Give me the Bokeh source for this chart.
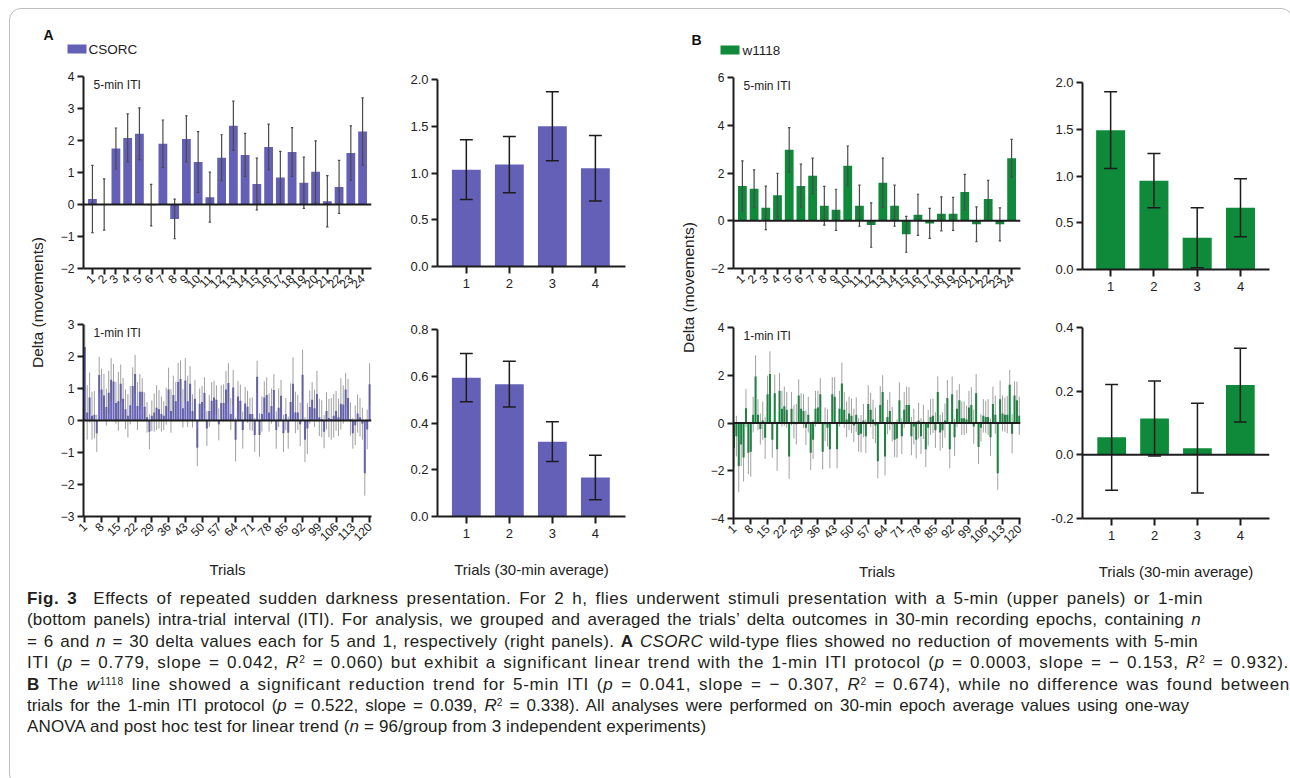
import numpy as np
from math import pi
from bokeh.plotting import figure
from bokeh.models import Range1d, FixedTicker, Span, Label, Div, NumeralTickFormatter
from bokeh.layouts import row, column
from bokeh.core.properties import value
from bokeh.embed import file_html
from bokeh.resources import INLINE

# ---------------- data ----------------
trials5 = list(range(1, 25))
trials1 = list(range(1, 121))
epochs = [1, 2, 3, 4]

A5_mean = [0.17, 0.00, 1.75, 2.08, 2.21, -0.02, 1.90, -0.45, 2.05, 1.33, 0.23, 1.46,
           2.46, 1.55, 0.64, 1.80, 0.84, 1.64, 0.68, 1.02, 0.10, 0.55, 1.61, 2.28]
A5_sem = [1.05, 0.80, 0.64, 0.75, 0.81, 0.65, 0.74, 0.62, 0.72, 0.95, 0.78, 0.72,
          0.77, 0.67, 0.81, 0.71, 0.82, 0.76, 0.80, 0.97, 0.80, 0.83, 0.85, 1.05]

B5_mean = [1.46, 1.34, 0.54, 1.07, 2.97, 1.46, 1.88, 0.63, 0.46, 2.30, 0.63, -0.18,
           1.59, 0.63, -0.57, 0.25, -0.11, 0.29, 0.29, 1.20, -0.15, 0.91, -0.15, 2.62]
B5_sem = [1.05, 0.79, 0.91, 0.92, 0.93, 0.91, 0.74, 0.81, 0.86, 0.83, 0.86, 0.93,
          1.03, 0.86, 0.75, 0.86, 0.63, 0.71, 0.69, 0.74, 0.73, 0.78, 0.69, 0.79]

A1_mean = [2.30, 0.25, 0.72, 0.15, 0.18, -0.40, 1.42, 0.97, 0.78, 0.42,
           0.87, 1.27, 1.22, 0.55, 0.60, 1.15, 0.68, 0.35, 0.15, 0.48,
           1.08, 1.45, 0.45, 0.90, 0.90, 0.43, 0.10, -0.35, 0.15, 0.25,
           0.40, 0.35, 0.20, 0.15, 0.45, 0.97, 0.30, 0.80, 0.60, 1.20,
           1.30, 0.38, 1.25, 0.60, 1.15, 0.30, 0.68, -0.85, 0.52, 0.58,
           0.87, -0.25, 0.30, 0.62, 0.72, 0.65, -0.12, 0.55, 0.55, 0.97,
           1.17, 0.20, 1.03, -0.60, 0.75, 0.62, -0.30, 0.53, 0.43, 0.20,
           0.20, -0.45, 1.37, -0.45, 0.20, 0.72, 0.80, 0.25, 0.45, 0.95,
           -0.30, 0.40, 0.77, -0.40, 0.20, -0.38, 0.58, 1.15, 0.25, 0.25,
           -0.12, 1.43, -0.60, -0.25, 0.42, 0.65, 0.38, 0.83, 0.10, 0.05,
           -0.35, 0.30, 0.08, 0.05, 0.15, 0.30, 0.10, 0.52, 0.50, 0.97,
           0.70, 0.05, -0.40, -0.15, 0.22, 0.10, -0.10, -1.65, -0.28, 1.13]
A1_sem = [0.70, 0.85, 0.78, 0.75, 0.74, 0.58, 0.57, 0.65, 0.68, 0.58,
          0.68, 0.68, 0.55, 0.65, 0.92, 0.60, 0.65, 0.62, 0.68, 0.60,
          0.58, 0.60, 0.75, 0.55, 0.42, 0.45, 0.48, 0.55, 0.48, 0.60,
          0.70, 0.60, 0.55, 0.45, 0.58, 0.68, 0.68, 0.60, 0.60, 0.60,
          0.58, 0.60, 0.70, 0.80, 0.55, 0.52, 0.58, 0.58, 0.48, 0.50,
          0.48, 0.55, 0.50, 0.58, 0.52, 0.45, 0.50, 0.55, 0.58, 0.58,
          0.62, 0.50, 0.55, 0.68, 0.48, 0.50, 0.58, 0.52, 0.50, 0.50,
          0.52, 0.53, 0.50, 0.68, 0.55, 0.50, 0.55, 0.60, 0.55, 0.50,
          0.58, 0.60, 0.50, 0.58, 0.50, 0.50, 0.58, 0.82, 0.65, 0.55,
          0.68, 0.78, 0.70, 0.80, 0.52, 0.55, 0.58, 0.72, 0.58, 0.58,
          0.52, 0.58, 0.60, 0.65, 0.68, 0.62, 0.58, 0.80, 0.60, 0.52,
          0.60, 0.52, 0.48, 0.62, 0.60, 0.60, 0.50, 0.70, 0.62, 0.66]

B1_mean = [-1.05, -0.55, -1.80, -0.90, -1.45, 0.62, -1.25, -1.20, 0.35, 1.95,
           0.35, -0.25, 0.10, -0.62, 1.20, 2.05, -0.70, 1.25, -1.10, 1.35,
           0.60, 0.70, 0.55, -1.40, 0.60, 0.05, -0.05, 1.15, 0.60, 0.50,
           -0.20, 0.35, -1.25, -0.70, 0.60, 0.65, 1.20, -1.20, -0.05, -0.20,
           -1.10, 1.20, 1.10, -1.10, 0.60, 1.65, 0.55, 0.15, 0.40, 0.30,
           -0.10, 0.35, -0.50, -0.45, 0.10, -0.55, 0.80, 0.55, 0.15, -0.10,
           -1.60, 0.75, 1.30, -1.40, 0.25, 0.50, -0.05, -0.70, -0.65, 0.95,
           -0.55, 0.55, 0.75, 0.75, -0.55, -0.15, -0.70, 0.10, -0.55, 0.05,
           -1.10, -0.20, 0.25, 0.30, -0.30, 1.30, -0.40, -0.30, 0.10, 1.05,
           -1.10, 1.20, -0.60, 0.60, 0.95, 0.20, 0.20, 0.15, 0.65, 0.75,
           -0.15, 1.25, -1.00, -0.20, 0.30, 0.25, 0.25, -0.60, 0.80, 0.35,
           -2.10, 1.00, 0.40, 0.35, 0.35, 1.60, -0.45, 1.15, 0.95, 0.30]
B1_sem = [0.80, 0.85, 1.10, 0.90, 1.00, 0.80, 0.90, 1.05, 0.75, 0.88,
          0.65, 0.65, 0.80, 0.88, 0.78, 0.95, 0.75, 0.78, 0.90, 0.75,
          0.75, 0.82, 0.75, 0.95, 0.70, 0.70, 0.85, 0.68, 0.65, 0.70,
          0.72, 0.75, 0.72, 0.80, 0.75, 0.70, 0.68, 0.75, 0.70, 0.78,
          0.80, 0.72, 0.82, 0.80, 0.75, 0.88, 0.75, 0.75, 0.70, 0.72,
          0.70, 0.72, 0.70, 0.78, 0.70, 0.70, 0.78, 0.72, 0.82, 0.75,
          0.72, 0.80, 0.70, 0.80, 0.72, 0.80, 0.72, 0.72, 0.80, 0.75,
          0.75, 0.75, 0.78, 0.75, 0.80, 0.75, 0.78, 0.75, 0.75, 0.72,
          0.75, 0.75, 0.75, 0.72, 0.75, 0.65, 0.75, 0.75, 0.72, 0.75,
          0.80, 0.75, 0.78, 0.78, 0.68, 0.70, 0.70, 0.58, 0.70, 0.75,
          0.72, 0.80, 0.72, 0.58, 0.70, 0.68, 0.75, 0.78, 0.72, 0.80,
          0.70, 0.78, 0.75, 0.72, 0.78, 0.62, 0.82, 0.60, 0.78, 0.80]

A5r_mean = [1.036, 1.09, 1.50, 1.05]
A5r_sem = [0.32, 0.30, 0.37, 0.35]
A1r_mean = [0.594, 0.566, 0.320, 0.167]
A1r_sem = [0.103, 0.098, 0.085, 0.095]
B5r_mean = [1.49, 0.95, 0.34, 0.66]
B5r_sem = [0.41, 0.29, 0.32, 0.31]
B1r_mean = [0.055, 0.114, 0.021, 0.219]
B1r_sem = [0.166, 0.118, 0.141, 0.116]

trial_ticks_1min = list(range(1, 121, 7))
PURPLE = "#6560B7"
PURPLE_1MIN = "#6a66c0"
GREEN = "#0F893A"
INK = "#1c1c1c"
FONT = "Liberation Sans"


def base_fig(w, h, xr, yr, bl, br, bt, bb):
    p = figure(width=w, height=h, x_range=Range1d(*xr), y_range=Range1d(*yr),
               output_backend="svg", toolbar_location=None,
               min_border_left=bl, min_border_right=br,
               min_border_top=bt, min_border_bottom=bb)
    p.outline_line_color = None
    p.xgrid.visible = False
    p.ygrid.visible = False
    p.background_fill_color = None
    p.border_fill_color = None
    for ax in (p.xaxis[0], p.yaxis[0]):
        ax.axis_line_width = 2
        ax.axis_line_color = INK
        ax.major_tick_line_width = 2
        ax.major_tick_line_color = INK
        ax.major_tick_out = 6
        ax.major_tick_in = 0
        ax.minor_tick_line_color = None
        ax.major_label_text_font = FONT
        ax.major_label_text_color = "#222222"
        ax.axis_label_text_font = FONT
        ax.axis_label_text_font_style = "normal"
        ax.axis_label_text_font_size = "15px"
        ax.axis_label_text_color = "#222222"
    p.yaxis[0].major_label_standoff = 3
    return p


def inset(p, xr, yr, txt):
    p.add_layout(Label(x=xr[0], y=yr[1], text=txt, x_offset=10, y_offset=-1,
                       text_baseline="top", text_font_size="12px",
                       text_font=FONT, text_color="#222222"))


def trial_panel(w, h, xr, yr, borders, x, mean, sem, color, yticks, xticks,
                txt, bar_w, cap, err_color, err_w, err_alpha, xlabel=None):
    p = base_fig(w, h, xr, yr, *borders)
    m = np.array(mean)
    s = np.array(sem)
    xs = np.array(x, dtype=float)
    p.vbar(x=xs, top=m, bottom=0, width=bar_w, fill_color=color, line_color=None)
    p.add_layout(Span(location=0, dimension="width", line_color=INK, line_width=2))
    p.segment(x0=xs, y0=m - s, x1=xs, y1=m + s, line_color=err_color,
              line_width=err_w, line_alpha=err_alpha)
    if cap:
        p.segment(x0=xs - cap, y0=m + s, x1=xs + cap, y1=m + s, line_color=err_color, line_width=err_w)
        p.segment(x0=xs - cap, y0=m - s, x1=xs + cap, y1=m - s, line_color=err_color, line_width=err_w)
    p.yaxis[0].ticker = FixedTicker(ticks=yticks)
    p.yaxis[0].major_label_text_font_size = "12px"
    p.xaxis[0].ticker = FixedTicker(ticks=xticks)
    p.xaxis[0].major_label_orientation = pi / 4
    p.xaxis[0].major_label_text_font_size = "12px"
    p.xaxis[0].major_label_standoff = 2
    if xlabel:
        p.xaxis[0].axis_label = xlabel
        p.xaxis[0].axis_label_standoff = 13
    inset(p, xr, yr, txt)
    return p


def epoch_panel(w, h, xr, yr, borders, mean, sem, color, yticks, xlabel=None):
    p = base_fig(w, h, xr, yr, *borders)
    m = np.array(mean)
    s = np.array(sem)
    xs = np.array(epochs, dtype=float)
    p.vbar(x=xs, top=m, bottom=0, width=0.67, fill_color=color, line_color=None)
    if yr[0] < 0:
        p.add_layout(Span(location=0, dimension="width", line_color=INK, line_width=2))
    p.segment(x0=xs, y0=m - s, x1=xs, y1=m + s, line_color=INK, line_width=1.5)
    p.segment(x0=xs - 0.15, y0=m + s, x1=xs + 0.15, y1=m + s, line_color=INK, line_width=1.5)
    p.segment(x0=xs - 0.15, y0=m - s, x1=xs + 0.15, y1=m - s, line_color=INK, line_width=1.5)
    p.yaxis[0].ticker = FixedTicker(ticks=yticks)
    p.yaxis[0].formatter = NumeralTickFormatter(format="0.0")
    p.yaxis[0].major_label_text_font_size = "13px"
    p.xaxis[0].ticker = FixedTicker(ticks=epochs)
    p.xaxis[0].major_label_text_font_size = "13px"
    p.xaxis[0].major_tick_out = 7
    p.xaxis[0].major_label_standoff = 5
    if xlabel:
        p.xaxis[0].axis_label = xlabel
        p.xaxis[0].axis_label_standoff = 20
    return p


# ---------------- panels ----------------
A5 = trial_panel(340, 245, (0.24, 24.76), (-2, 4), (35, 15, 13, 40), trials5, A5_mean, A5_sem,
                 PURPLE, list(range(-2, 5)), trials5, "5-min ITI", 0.75, 0.1, "#4a4a4a", 1.2, 1.0)
A1 = trial_panel(340, 275, (0.45, 120.8), (-3, 3), (35, 17, 16, 67), trials1, A1_mean, A1_sem,
                 PURPLE_1MIN, list(range(-3, 4)), trial_ticks_1min, "1-min ITI", 0.85, 0,
                 "#606060", 1.0, 0.6, xlabel="Trials")
A5r = epoch_panel(275, 245, (0.33, 4.70), (0, 2.0), (49, 38, 16, 42), A5r_mean, A5r_sem, PURPLE,
                  [0.0, 0.5, 1.0, 1.5, 2.0])
A1r = epoch_panel(275, 275, (0.33, 4.70), (0, 0.8), (49, 38, 21, 67), A1r_mean, A1r_sem, PURPLE,
                  [0.0, 0.2, 0.4, 0.6, 0.8], xlabel="Trials (30-min average)")

B5 = trial_panel(330, 245, (0.24, 24.76), (-2, 6), (30, 10, 14, 40), trials5, B5_mean, B5_sem,
                 GREEN, [-2, 0, 2, 4, 6], trials5, "5-min ITI", 0.75, 0.1, "#4a4a4a", 1.2, 1.0)
B1 = trial_panel(330, 275, (0.8, 120.5), (-4, 4), (30, 13, 19, 63), trials1, B1_mean, B1_sem,
                 GREEN, [-4, -2, 0, 2, 4], trial_ticks_1min, "1-min ITI", 0.85, 0,
                 "#606060", 1.0, 0.6, xlabel="Trials")
B5r = epoch_panel(249, 245, (0.35, 4.67), (0, 2.0), (49, 13, 19, 39), B5r_mean, B5r_sem, GREEN,
                  [0.0, 0.5, 1.0, 1.5, 2.0])
B1r = epoch_panel(249, 275, (0.32, 4.68), (-0.2, 0.4), (49, 7, 19, 65), B1r_mean, B1r_sem, GREEN,
                  [-0.2, 0.0, 0.2, 0.4], xlabel="Trials (30-min average)")


def deco_fig(w, h):
    p = figure(width=w, height=h, x_range=Range1d(0, w), y_range=Range1d(0, h),
               output_backend="svg", toolbar_location=None,
               x_axis_type=None, y_axis_type=None, min_border=0)
    p.outline_line_color = None
    p.xgrid.visible = False
    p.ygrid.visible = False
    p.background_fill_color = None
    p.border_fill_color = None
    return p


# header with panel letters and legends
H = 54
header = deco_fig(1272, H)
header.text(x=[33, 681], y=[H - 25.5, H - 30.5], text=["A", "B"], text_font=value(FONT),
            text_font_style="bold", text_font_size="14px", text_baseline="middle",
            text_color="#111111")
header.rect(x=[66.5], y=[H - 39.5], width=19, height=9, fill_color=PURPLE, line_color=None)
header.rect(x=[719.5], y=[H - 40.5], width=19, height=9, fill_color=GREEN, line_color=None)
header.text(x=[78, 732], y=[H - 39.5, H - 40.5], text=["CSORC", "w1118"], text_font=value(FONT),
            text_font_size="13.5px", text_baseline="middle", text_color="#222222")

labA = deco_fig(38, 520)
labA.text(x=[26.5], y=[281], text=["Delta (movements)"], angle=pi / 2, text_align="center",
          text_baseline="middle", text_font=value(FONT), text_font_size="15.5px",
          text_color="#222222")
labB = deco_fig(40, 520)
labB.text(x=[25], y=[296], text=["Delta (movements)"], angle=pi / 2, text_align="center",
          text_baseline="middle", text_font=value(FONT), text_font_size="15.5px",
          text_color="#222222")

panels = row(labA, column(A5, A1), column(A5r, A1r), labB, column(B5, B1), column(B5r, B1r))

SUP = "<span style='font-size:0.6em;vertical-align:0.45em;line-height:0'>{}</span>"
R2 = "<i>R</i>" + SUP.format("2")
caption_lines = [
    "<b>Fig. 3</b>&nbsp; Effects of repeated sudden darkness presentation. For 2 h, flies underwent stimuli presentation with a 5-min (upper panels) or 1-min",
    "(bottom panels) intra-trial interval (ITI). For analysis, we grouped and averaged the trials’ delta outcomes in 30-min recording epochs, containing <i>n</i>",
    "= 6 and <i>n</i> = 30 delta values each for 5 and 1, respectively (right panels). <b>A</b> <i>CSORC</i> wild-type flies showed no reduction of movements with 5-min",
    "ITI (<i>p</i> = 0.779, slope = 0.042, " + R2 + " = 0.060) but exhibit a significant linear trend with the 1-min ITI protocol (<i>p</i> = 0.0003, slope = − 0.153, " + R2 + " = 0.932).",
    "<b>B</b> The <i>w</i>" + SUP.format("1118") + " line showed a significant reduction trend for 5-min ITI (<i>p</i> = 0.041, slope = − 0.307, " + R2 + " = 0.674), while no difference was found between",
    "trials for the 1-min ITI protocol (<i>p</i> = 0.522, slope = 0.039, " + R2 + " = 0.338). All analyses were performed on 30-min epoch average values using one-way",
    "ANOVA and post hoc test for linear trend (<i>n</i> = 96/group from 3 independent experiments)",
]
caption_widths = [1176, 1174, 1171, 1262, 1263, 1162, None]
caption_spacing = [0.49, 0.21, 0.32, 0.76, 0.72, -0.02, 0.15]

line_html = []
for txt, w, ls in zip(caption_lines, caption_widths, caption_spacing):
    if w:
        st = f"width:{w}px;text-align:justify;text-align-last:justify;"
    else:
        st = "text-align:left;"
    line_html.append(f"<div style=\"{st}letter-spacing:{ls}px;height:21.4px;white-space:nowrap;\">{txt}</div>")

caption = Div(
    text="<div style=\"font-family:'Liberation Sans',sans-serif;font-size:17px;"
         "line-height:21.4px;color:#231f20;padding:0 0 0 12px;\">"
         + "".join(line_html) + "</div>",
    width=1272, height=192)

layout = column(header, panels, caption,
                styles={"border": "1px solid #bdbdbd", "border-radius": "12px",
                        "margin": "8px 2px 0 9px"})

open("out.html", "w").write(file_html(layout, INLINE))
